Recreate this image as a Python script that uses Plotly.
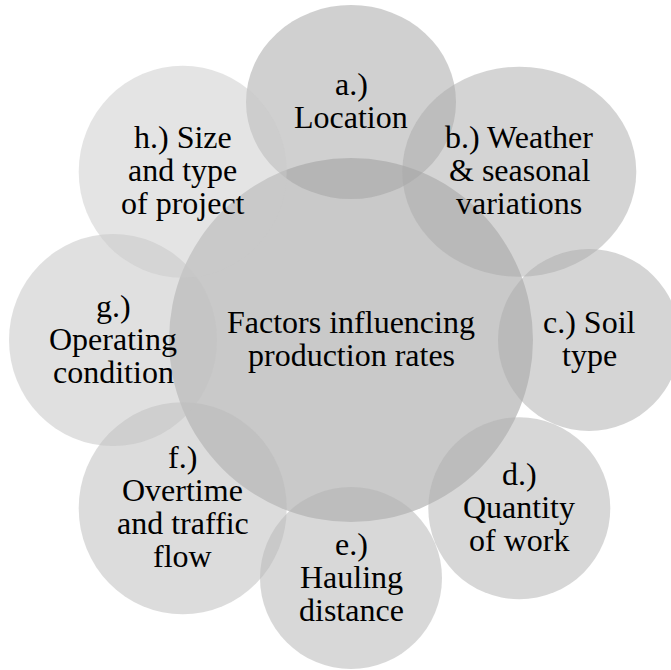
import numpy as np
import plotly.graph_objects as go

# ── diagram content ───────────────────────────────────────────────
hub_lines = ["Factors influencing", "production rates"]

factor_lines = [
    ["a.)", "Location"],
    ["b.) Weather", "& seasonal", "variations"],
    ["c.) Soil", "type"],
    ["d.)", "Quantity", "of work"],
    ["e.)", "Hauling", "distance"],
    ["f.)", "Overtime", "and traffic", "flow"],
    ["g.)", "Operating", "condition"],
    ["h.) Size", "and type", "of project"],
]

# ── geometry / style (pixel space of a 671x670 canvas) ────────────
W, H = 671, 670
hub_cx, hub_cy, hub_r = 351, 340, 182
ring_dist = 238
angles = [90, 45, 0, -45, -90, -135, 180, 135]           # degrees, a → h
radii = [(105, 97), (117, 105), (91, 91), (91, 91),
         (91, 91), (104, 106), (104, 106), (104, 106)]    # (rx, ry)
greys = [161, 169, 171, 175, 177, 185, 193, 201]         # fill grey per circle
FONT = dict(family="Liberation Serif, Times New Roman, serif", size=32, color="black")
LINE_H = 33
TEXT_DY = -1.5

fig = go.Figure()
shapes, annotations = [], []


def add_text(lines, cx, cy):
    n = len(lines)
    for i, txt in enumerate(lines):
        annotations.append(dict(
            x=cx, y=cy + TEXT_DY + (i - (n - 1) / 2) * LINE_H,
            text=txt, showarrow=False, xanchor="center", yanchor="middle",
            font=FONT, xref="x", yref="y",
        ))


# central circle
shapes.append(dict(
    type="circle", xref="x", yref="y",
    x0=hub_cx - hub_r, x1=hub_cx + hub_r, y0=hub_cy - hub_r, y1=hub_cy + hub_r,
    fillcolor="rgba(147,147,147,0.5)", line=dict(width=0), layer="above",
))
add_text(hub_lines, hub_cx, hub_cy)

# satellites
for lines, ang, (rx, ry), g in zip(factor_lines, angles, radii, greys):
    cx = hub_cx + ring_dist * np.cos(np.radians(ang))
    cy = hub_cy - ring_dist * np.sin(np.radians(ang))
    shapes.append(dict(
        type="circle", xref="x", yref="y",
        x0=cx - rx, x1=cx + rx, y0=cy - ry, y1=cy + ry,
        fillcolor=f"rgba({g},{g},{g},0.5)", line=dict(width=0), layer="above",
    ))
    add_text(lines, cx, cy)

fig.update_layout(
    width=W, height=H,
    margin=dict(l=0, r=0, t=0, b=0),
    paper_bgcolor="white", plot_bgcolor="white",
    xaxis=dict(range=[0, W], visible=False, fixedrange=True),
    yaxis=dict(range=[H, 0], visible=False, fixedrange=True),
    shapes=shapes, annotations=annotations,
    showlegend=False,
)

# drop the browser's default 8px body margin so the canvas sits at (0, 0)
fig.write_html(
    "out.html",
    config={"displayModeBar": False},
    post_script="document.body.style.margin='0';document.body.style.overflow='hidden';",
)
